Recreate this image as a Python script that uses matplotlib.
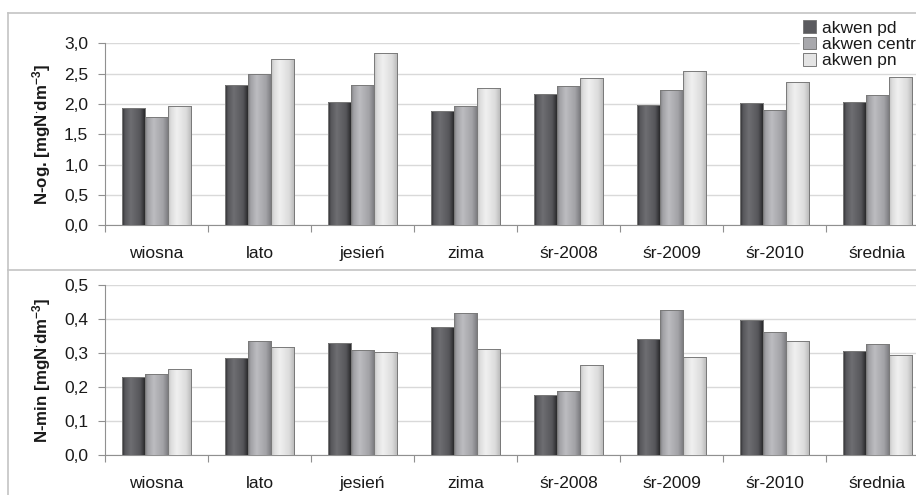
import numpy as np
import matplotlib
matplotlib.use("Agg")
import matplotlib.pyplot as plt
from matplotlib.colors import LinearSegmentedColormap
from matplotlib.lines import Line2D

plt.rcParams["font.family"] = ["Liberation Sans", "DejaVu Sans"]
plt.rcParams["mathtext.fontset"] = "custom"
plt.rcParams["mathtext.rm"] = "Liberation Sans"
plt.rcParams["mathtext.bf"] = "Liberation Sans:bold"
plt.rcParams["mathtext.default"] = "bf"

categories = ["wiosna", "lato", "jesień", "zima", "śr-2008", "śr-2009", "śr-2010", "średnia"]
series = ["akwen pd", "akwen centr", "akwen pn"]

n_og_pd = [1.93, 2.32, 2.04, 1.88, 2.16, 1.99, 2.01, 2.04]
n_og_centr = [1.78, 2.49, 2.32, 1.97, 2.30, 2.23, 1.90, 2.14]
n_og_pn = [1.97, 2.74, 2.84, 2.27, 2.42, 2.55, 2.37, 2.44]

n_min_pd = [0.231, 0.286, 0.331, 0.377, 0.176, 0.340, 0.398, 0.306]
n_min_centr = [0.239, 0.335, 0.310, 0.419, 0.188, 0.427, 0.361, 0.326]
n_min_pn = [0.253, 0.318, 0.303, 0.311, 0.264, 0.289, 0.336, 0.294]

# cylinder-like shading per series: (edge, highlight, body)
shades = [("#2a2a2c", "#6e6e72", "#56565a"),
          ("#7e7e82", "#bcbcc0", "#a2a2a6"),
          ("#bdbdbd", "#f0f0f0", "#dcdcdc")]
legend_colors = ["#5a5a5e", "#a8a8ac", "#e4e4e4"]

W, H = 916, 495
fig = plt.figure(figsize=(W / 100, H / 100), dpi=100)


def fx(px):
    return px / W


def fy(py):
    return 1 - py / H


# outer frame lines of the two panels
frame_col = "#c4c4c4"
fig.add_artist(Line2D([fx(8), 1.0], [fy(13), fy(13)], color=frame_col, lw=1.2))
fig.add_artist(Line2D([fx(8), fx(8)], [fy(13), 0.0], color=frame_col, lw=1.2))
fig.add_artist(Line2D([fx(8), 1.0], [fy(270), fy(270)], color=frame_col, lw=1.2))

ax_left = fx(105)
ax_width = fx(929) - ax_left
ax1 = fig.add_axes([ax_left, fy(225.3), ax_width, fy(43.3) - fy(225.3)])
ax2 = fig.add_axes([ax_left, fy(455.3), ax_width, fy(285) - fy(455.3)])

x = np.arange(len(categories))
bw = 0.223
offsets = [-bw, 0.0, bw]


def shaded_bars(ax, values_list):
    for k, vals in enumerate(values_list):
        edge, hi, body = shades[k]
        cmap = LinearSegmentedColormap.from_list(
            "s%d" % k, [(0.0, edge), (0.12, body), (0.38, hi), (0.8, body), (1.0, edge)])
        grad = np.linspace(0, 1, 64).reshape(1, -1)
        bars = ax.bar(x + offsets[k], vals, width=bw, color=body,
                      edgecolor="#7a7a7a", linewidth=0.7, zorder=3)
        for b in bars:
            x0, y0 = b.get_x(), b.get_y()
            im = ax.imshow(grad, cmap=cmap, aspect="auto", zorder=3.5,
                           extent=(x0, x0 + b.get_width(), y0, y0 + b.get_height()),
                           interpolation="bilinear")
            im.set_clip_path(b)
            outline = plt.Rectangle((x0, y0), b.get_width(), b.get_height(),
                                    fill=False, edgecolor="#7a7a7a", lw=0.7, zorder=4)
            ax.add_patch(outline)


def style_axis(ax, ymax, step, label):
    ax.set_xlim(-0.5, len(categories) - 0.5)
    ax.set_ylim(0, ymax)
    ticks = np.round(np.arange(0, ymax + step / 2, step), 3)
    ax.set_yticks(ticks)
    ax.set_yticklabels([("%.1f" % t).replace(".", ",") for t in ticks])
    ax.set_xticks(np.arange(len(categories) + 1) - 0.5)
    ax.set_xticklabels([])
    ax.set_xticks(x, minor=True)
    ax.set_xticklabels(categories, minor=True)
    ax.tick_params(axis="x", which="major", length=5, color="#909090", width=0.8)
    ax.tick_params(axis="x", which="minor", length=0, pad=15, labelsize=12.5,
                   labelcolor="#1a1a1a")
    ax.tick_params(axis="y", length=5, color="#909090", width=0.8, pad=7,
                   labelsize=12.5, labelcolor="#1a1a1a")
    for s in ["top", "right"]:
        ax.spines[s].set_visible(False)
    for s in ["left", "bottom"]:
        ax.spines[s].set_color("#909090")
        ax.spines[s].set_linewidth(0.8)
    ax.grid(axis="y", color="#d9d9d9", lw=1.0, zorder=0)
    ax.set_axisbelow(True)
    ax.set_ylabel(label, fontsize=12.2, fontweight="bold", color="#1a1a1a", labelpad=8)


shaded_bars(ax1, [n_og_pd, n_og_centr, n_og_pn])
shaded_bars(ax2, [n_min_pd, n_min_centr, n_min_pn])
style_axis(ax1, 3.0, 0.5, "N-og. [mgN$^{\\cdot}$dm$^{-3}$]")
style_axis(ax2, 0.5, 0.1, "N-min [mgN$^{\\cdot}$dm$^{-3}$]")

handles = [plt.Rectangle((0, 0), 1, 1, facecolor=c, edgecolor="#7a7a7a", lw=0.7)
           for c in legend_colors]
leg = fig.legend(handles, series, loc="upper left", bbox_to_anchor=(fx(800), fy(17)),
                 fontsize=12.5, frameon=True, facecolor="white", edgecolor="white",
                 framealpha=1, handlelength=0.75, handleheight=0.75, handletextpad=0.3,
                 labelspacing=0.05, borderpad=0.2, borderaxespad=0)
for t in leg.get_texts():
    t.set_color("#1a1a1a")

fig.savefig("out.png", dpi=100)
